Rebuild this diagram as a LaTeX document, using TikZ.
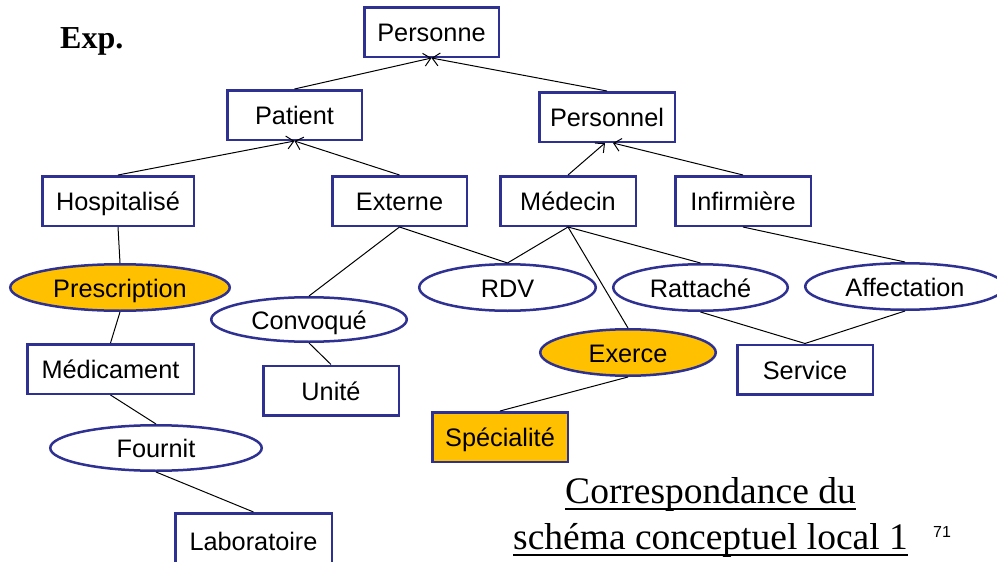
\documentclass[tikz,border=0pt]{standalone}
\usepackage{fontspec}
\setmainfont{Liberation Serif}
\newfontfamily\diagfont{Liberation Sans}
\usetikzlibrary{shapes.geometric,arrows.meta}

\definecolor{erblue}{RGB}{46,49,146}
\definecolor{ergold}{RGB}{255,192,0}

% underlined title line with the rule a fixed distance below the baseline
\newcommand\titleline[1]{\setbox0\hbox{#1}\rlap{\rule[-6.5pt]{\wd0}{1.8pt}}\box0}

\tikzset{
  entity/.style={draw=erblue, line width=2.5pt, rectangle, inner sep=0pt,
    minimum height=49.5pt, text height=19pt, text depth=0pt,
    font=\diagfont\fontsize{25.3}{30}\selectfont},
  assoc/.style={draw=erblue, line width=2.5pt, ellipse, inner sep=0pt,
    minimum height=46.5pt, text height=19pt, text depth=0pt,
    font=\diagfont\fontsize{25.3}{30}\selectfont},
  marked/.style={fill=ergold},
  link/.style={line width=1pt},
  isa/.style={line width=1pt, -{Straight Barb[length=7pt,width=13pt,line width=1pt]}}
}

\begin{document}
\begin{tikzpicture}[x=1pt,y=-1pt]
\useasboundingbox (0,0) rectangle (997,562);
\clip (0,0) rectangle (997,562);

% generalisation hierarchy
\node[entity, minimum width=134.5pt] (personne) at (431.5,32) {Personne};
\node[entity, minimum width=134.5pt] (patient) at (294.5,115) {Patient};
\node[entity, minimum width=135.5pt] (personnel) at (607,117) {Personnel};
\node[entity, minimum width=151.5pt] (hosp) at (118,201) {Hospitalisé};
\node[entity, minimum width=134.5pt] (externe) at (399.5,201) {Externe};
\node[entity, minimum width=135.5pt] (medecin) at (568,201) {Médecin};
\node[entity, minimum width=135.5pt] (infirmiere) at (743,201) {Infirmière};

% other entities
\node[entity, minimum width=166.5pt] (medicament) at (110.5,369) {Médicament};
\node[entity, minimum width=135.5pt] (unite) at (331,390.5) {Unité};
\node[entity, minimum width=135.5pt] (service) at (805,369.5) {Service};
\node[entity, marked, minimum width=135.5pt] (specialite) at (500,437) {Spécialité};
\node[entity, minimum width=156.5pt, minimum height=55.5pt] (labo) at (253.5,541) {Laboratoire};

% associations
\node[assoc, marked, minimum width=219.5pt] (prescription) at (120,287.5) {Prescription};
\node[assoc, minimum width=195.5pt, minimum height=44.5pt] (convoque) at (309,319.5) {Convoqué};
\node[assoc, minimum width=211.5pt, minimum height=45.5pt] (fournit) at (156,448) {Fournit};
\node[assoc, minimum width=176.5pt] (rdv) at (507.5,287.5) {RDV};
\node[assoc, minimum width=174.5pt] (rattache) at (700.5,287.5) {Rattaché};
\node[assoc, minimum width=199.5pt] (affectation) at (905,286.5) {Affectation};
\node[assoc, marked, minimum width=175.5pt] (exerce) at (628,352.5) {Exerce};

% is-a arrows
\draw[isa] (patient.north) -- (personne.south);
\draw[isa] (personnel.north) -- (personne.south);
\draw[isa] (hosp.north) -- (patient.south);
\draw[isa] (externe.north) -- (patient.south);
\draw[isa] (medecin.north) -- ([xshift=-2pt]personnel.south);
\draw[isa] (infirmiere.north) -- ([xshift=6pt]personnel.south);

% association links
\draw[link] (hosp.south) -- (prescription.north);
\draw[link] (prescription.south) -- (medicament.north);
\draw[link] (medicament.south) -- (fournit.north);
\draw[link] (fournit.south) -- (labo.north);
\draw[link] (externe.south) -- (convoque.north);
\draw[link] (convoque.south) -- (unite.north);
\draw[link] (externe.south) -- (rdv.north);
\draw[link] (medecin.south) -- (rdv.north);
\draw[link] (medecin.south) -- (exerce.north);
\draw[link] (medecin.south) -- (rattache.north);
\draw[link] (exerce.south) -- (specialite.north);
\draw[link] (infirmiere.south) -- (affectation.north);
\draw[link] (rattache.south) -- (service.north);
\draw[link] (affectation.south) -- (service.north);

% labels
\node[anchor=base west, inner sep=0pt, font=\bfseries\fontsize{32}{36}\selectfont] (exp) at (60,48) {Exp.};
\node[anchor=base, inner sep=0pt, font=\fontsize{37.5}{44}\selectfont] (title1) at (710.5,503) {\titleline{Correspondance du}};
\node[anchor=base, inner sep=0pt, font=\fontsize{37.5}{44}\selectfont] (title2) at (710.5,549) {\titleline{schéma conceptuel local 1}};
\node[anchor=base west, inner sep=0pt, font=\diagfont\fontsize{16}{18}\selectfont] (pagenum) at (933,537) {71};
\end{tikzpicture}
\end{document}
